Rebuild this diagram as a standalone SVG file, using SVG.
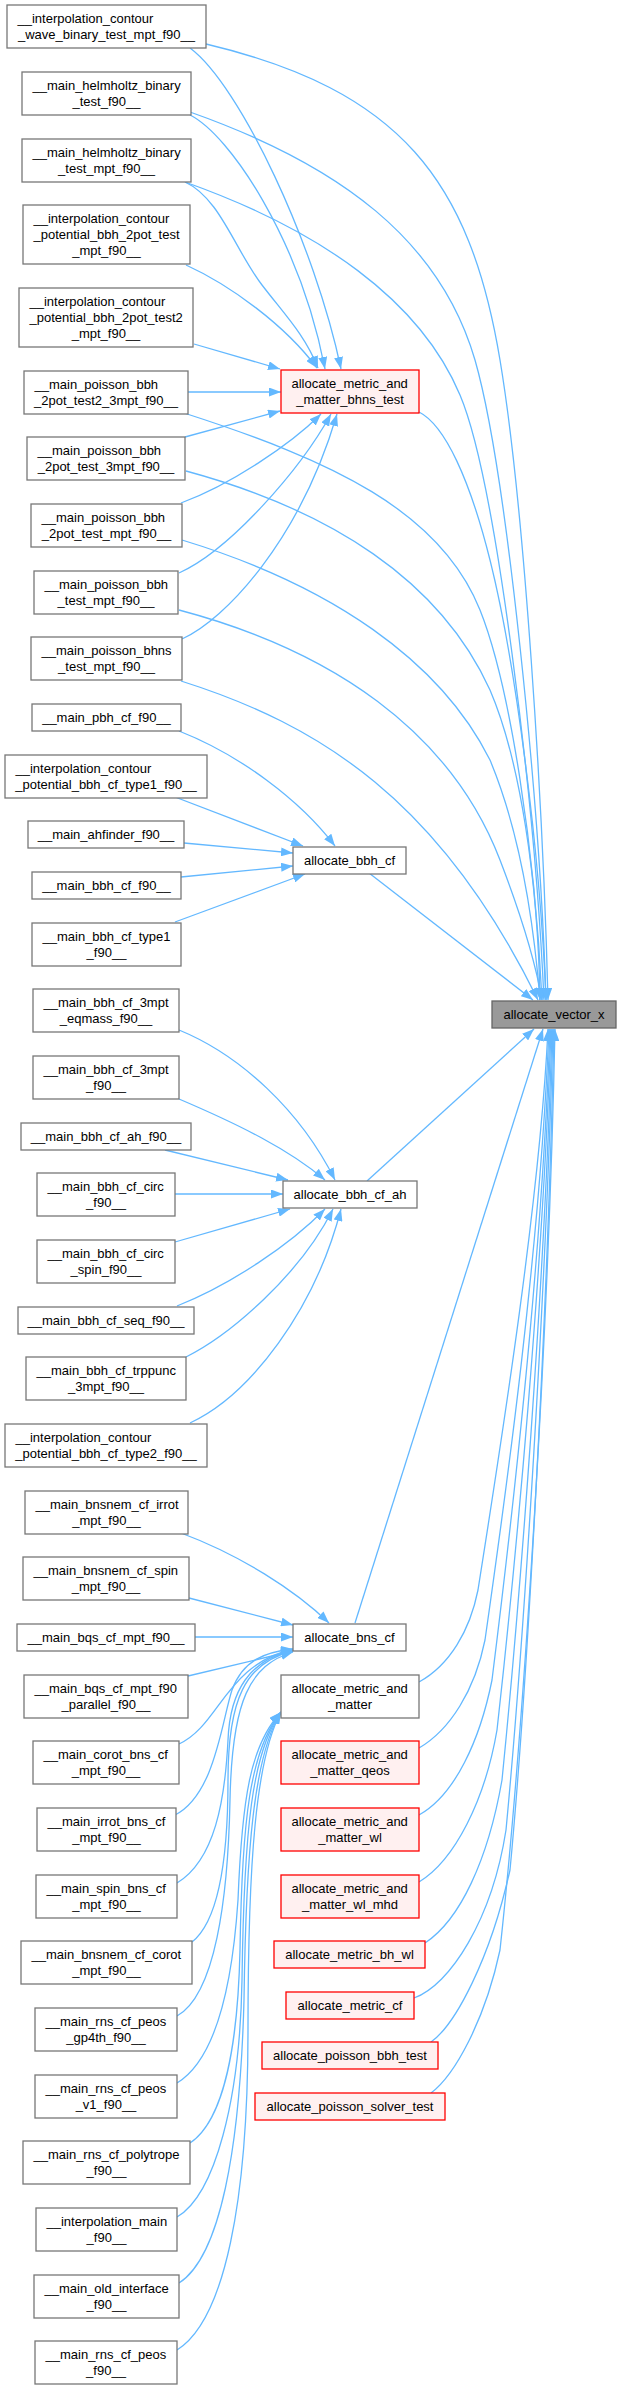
<svg xmlns="http://www.w3.org/2000/svg" width="621" height="2389" viewBox="0 0 621 2389">
<style>
.n rect{fill:#fff;stroke:#777;stroke-width:1.3}
.r rect{fill:#fff0f0;stroke:#f00;stroke-width:1.3}
.v rect{fill:#999;stroke:#666;stroke-width:1.3}
text{font-family:"Liberation Sans",Arial,sans-serif;font-size:13px;fill:#000}
.c{text-anchor:middle}
#edges path{fill:none;stroke:#63b8ff;stroke-width:1.3;marker-end:url(#ah)}
</style>
<defs>
<marker id="ah" viewBox="0 0 12 9" markerWidth="12" markerHeight="9" refX="12" refY="4.5" orient="auto" markerUnits="userSpaceOnUse"><path d="M0,0 L12,4.5 L0,9 z" fill="#63b8ff"/></marker>
</defs>
<rect width="621" height="2389" fill="#fff"/>
<g id="edges">
<path d="M190,48 C240,85 315,245 341,369"/>
<path d="M190,115 C230,135 300,240 325,369"/>
<path d="M185,182 C220,198 235,250 262,285 C285,315 305,335 318,368"/>
<path d="M186,265 C230,285 285,325 317,368"/>
<path d="M194,344 L280,369"/>
<path d="M188,392 L281,392"/>
<path d="M185,437 L280,411"/>
<path d="M181,503 C230,485 290,445 321,414"/>
<path d="M179,573 C230,550 300,470 331,414"/>
<path d="M182,639 C225,620 300,540 337,414"/>
<path d="M206,44 C400,90 470,180 500,360 C524,504 543,800 548,1000"/>
<path d="M190,112 C340,165 440,240 475,360 C506,468 540,800 546,1000"/>
<path d="M185,182 C320,230 420,300 460,395 C496,480 535,800 544,1000"/>
<path d="M184,413 C330,460 440,510 480,610 C510,685 535,850 542,1000"/>
<path d="M186,471 C330,510 440,580 490,690 C520,760 538,880 540,1000"/>
<path d="M182,540 C330,585 440,660 490,760 C515,820 532,900 540,1000"/>
<path d="M179,610 C330,650 450,730 500,860 C520,912 535,960 542,1000"/>
<path d="M181,681 C320,725 440,800 538,1000"/>
<path d="M419,412 C445,425 470,480 490,560 C515,660 540,850 546,1000"/>
<path d="M179,731 C240,755 300,800 335,846"/>
<path d="M175,797 L303,846"/>
<path d="M184,843 L293,853"/>
<path d="M181,877 L293,866"/>
<path d="M175,922 L305,874"/>
<path d="M369,873 L533,1000"/>
<path d="M179,1030 C240,1055 300,1110 335,1180"/>
<path d="M179,1099 C240,1125 290,1150 325,1180"/>
<path d="M165,1150 L288,1180"/>
<path d="M175,1194 L283,1194"/>
<path d="M175,1242 L290,1209"/>
<path d="M177,1306 C230,1285 290,1245 325,1209"/>
<path d="M186,1357 C230,1335 300,1275 333,1209"/>
<path d="M190,1423 C250,1395 315,1310 341,1209"/>
<path d="M367,1181 L534,1029"/>
<path d="M181,1533 C240,1555 295,1590 329,1623"/>
<path d="M189,1598 L293,1625"/>
<path d="M195,1637 L293,1637"/>
<path d="M188,1676 L293,1651"/>
<path d="M179,1744 C220,1725 225,1665 293,1649"/>
<path d="M175,1815 C215,1795 222,1720 232,1690 C243,1660 265,1652 293,1649"/>
<path d="M177,1883 C215,1860 225,1800 228,1740 C230,1690 250,1660 293,1650"/>
<path d="M192,1942 C220,1920 228,1850 228,1780 C228,1700 245,1662 293,1651"/>
<path d="M177,2016 C215,1995 228,1900 230,1800 C232,1700 250,1665 293,1652"/>
<path d="M177,2083 C215,2060 232,1990 238,1900 C242,1800 250,1745 281,1712"/>
<path d="M190,2143 C225,2120 238,2040 240,1950 C242,1820 250,1750 281,1712"/>
<path d="M177,2217 C215,2195 240,2100 242,1980 C244,1830 252,1752 281,1712"/>
<path d="M179,2283 C220,2257 240,2150 244,2000 C246,1850 254,1755 281,1712"/>
<path d="M177,2350 C225,2320 248,2200 248,2030 C248,1860 256,1758 281,1712"/>
<path d="M355,1623 L543,1029"/>
<path d="M419,1682 C450,1665 470,1630 478,1590 C500,1450 540,1200 548,1029"/>
<path d="M419,1748 C450,1730 475,1690 485,1640 C505,1500 540,1250 549,1029"/>
<path d="M419,1815 C455,1795 480,1740 492,1680 C512,1520 542,1260 550,1029"/>
<path d="M419,1882 C455,1860 485,1800 497,1730 C516,1560 543,1270 551,1029"/>
<path d="M425,1943 C460,1920 488,1860 502,1780 C520,1600 545,1280 552,1029"/>
<path d="M414,1998 C450,1985 492,1920 506,1830 C524,1640 546,1290 553,1029"/>
<path d="M431,2042 C455,2025 490,1960 510,1870 C528,1680 548,1300 554,1029"/>
<path d="M431,2093 C455,2075 485,2020 500,1950 C525,1720 549,1320 555,1029"/>
</g>
<g id="n1" class="n"><rect x="7" y="5" width="199" height="43"/><text x="17.5" y="23">__interpolation_contour</text><text class="c" x="106.5" y="39">_wave_binary_test_mpt_f90__</text></g>
<g id="n2" class="n"><rect x="22" y="72" width="169" height="43"/><text x="32.5" y="90">__main_helmholtz_binary</text><text class="c" x="106.5" y="106">_test_f90__</text></g>
<g id="n3" class="n"><rect x="22" y="139" width="169" height="43"/><text x="32.5" y="157">__main_helmholtz_binary</text><text class="c" x="106.5" y="173">_test_mpt_f90__</text></g>
<g id="n4" class="n"><rect x="23" y="205" width="167" height="59"/><text x="33.5" y="223">__interpolation_contour</text><text x="33.5" y="239">_potential_bbh_2pot_test</text><text class="c" x="106.5" y="255">_mpt_f90__</text></g>
<g id="n5" class="n"><rect x="19" y="288" width="174" height="59"/><text x="29.5" y="306">__interpolation_contour</text><text x="29.5" y="322">_potential_bbh_2pot_test2</text><text class="c" x="106" y="338">_mpt_f90__</text></g>
<g id="n6" class="n"><rect x="24" y="371" width="164" height="43"/><text x="34.5" y="389">__main_poisson_bbh</text><text class="c" x="106" y="405">_2pot_test2_3mpt_f90__</text></g>
<g id="n7" class="n"><rect x="27" y="437" width="158" height="43"/><text x="37.5" y="455">__main_poisson_bbh</text><text class="c" x="106" y="471">_2pot_test_3mpt_f90__</text></g>
<g id="n8" class="n"><rect x="31" y="504" width="151" height="43"/><text x="41.5" y="522">__main_poisson_bbh</text><text class="c" x="106.5" y="538">_2pot_test_mpt_f90__</text></g>
<g id="n9" class="n"><rect x="34" y="571" width="144" height="43"/><text x="44.5" y="589">__main_poisson_bbh</text><text class="c" x="106" y="605">_test_mpt_f90__</text></g>
<g id="n10" class="n"><rect x="31" y="637" width="151" height="43"/><text x="41.5" y="655">__main_poisson_bhns</text><text class="c" x="106.5" y="671">_test_mpt_f90__</text></g>
<g id="n11" class="n"><rect x="32" y="704" width="149" height="27"/><text class="c" x="106.5" y="721.5">__main_pbh_cf_f90__</text></g>
<g id="n12" class="n"><rect x="5" y="755" width="202" height="43"/><text x="15.5" y="773">__interpolation_contour</text><text class="c" x="106" y="789">_potential_bbh_cf_type1_f90__</text></g>
<g id="n13" class="n"><rect x="28" y="821" width="156" height="27"/><text class="c" x="106" y="838.5">__main_ahfinder_f90__</text></g>
<g id="n14" class="n"><rect x="32" y="872" width="149" height="27"/><text class="c" x="106.5" y="889.5">__main_bbh_cf_f90__</text></g>
<g id="n15" class="n"><rect x="32" y="923" width="149" height="43"/><text x="42.5" y="941">__main_bbh_cf_type1</text><text class="c" x="106.5" y="957">_f90__</text></g>
<g id="n16" class="n"><rect x="33" y="989" width="146" height="43"/><text x="43.5" y="1007">__main_bbh_cf_3mpt</text><text class="c" x="106" y="1023">_eqmass_f90__</text></g>
<g id="n17" class="n"><rect x="33" y="1056" width="146" height="43"/><text x="43.5" y="1074">__main_bbh_cf_3mpt</text><text class="c" x="106" y="1090">_f90__</text></g>
<g id="n18" class="n"><rect x="21" y="1123" width="170" height="27"/><text class="c" x="106" y="1140.5">__main_bbh_cf_ah_f90__</text></g>
<g id="n19" class="n"><rect x="37" y="1173" width="138" height="43"/><text x="47.5" y="1191">__main_bbh_cf_circ</text><text class="c" x="106" y="1207">_f90__</text></g>
<g id="n20" class="n"><rect x="37" y="1240" width="138" height="43"/><text x="47.5" y="1258">__main_bbh_cf_circ</text><text class="c" x="106" y="1274">_spin_f90__</text></g>
<g id="n21" class="n"><rect x="18" y="1307" width="176" height="27"/><text class="c" x="106" y="1324.5">__main_bbh_cf_seq_f90__</text></g>
<g id="n22" class="n"><rect x="26" y="1357" width="160" height="43"/><text x="36.5" y="1375">__main_bbh_cf_trppunc</text><text class="c" x="106" y="1391">_3mpt_f90__</text></g>
<g id="n23" class="n"><rect x="5" y="1424" width="202" height="43"/><text x="15.5" y="1442">__interpolation_contour</text><text class="c" x="106" y="1458">_potential_bbh_cf_type2_f90__</text></g>
<g id="n24" class="n"><rect x="25" y="1491" width="163" height="43"/><text x="35.5" y="1509">__main_bnsnem_cf_irrot</text><text class="c" x="106.5" y="1525">_mpt_f90__</text></g>
<g id="n25" class="n"><rect x="23" y="1557" width="166" height="43"/><text x="33.5" y="1575">__main_bnsnem_cf_spin</text><text class="c" x="106" y="1591">_mpt_f90__</text></g>
<g id="n26" class="n"><rect x="17" y="1624" width="178" height="27"/><text class="c" x="106" y="1641.5">__main_bqs_cf_mpt_f90__</text></g>
<g id="n27" class="n"><rect x="24" y="1675" width="164" height="43"/><text x="34.5" y="1693">__main_bqs_cf_mpt_f90</text><text class="c" x="106" y="1709">_parallel_f90__</text></g>
<g id="n28" class="n"><rect x="33" y="1741" width="146" height="43"/><text x="43.5" y="1759">__main_corot_bns_cf</text><text class="c" x="106" y="1775">_mpt_f90__</text></g>
<g id="n29" class="n"><rect x="37" y="1808" width="139" height="43"/><text x="47.5" y="1826">__main_irrot_bns_cf</text><text class="c" x="106.5" y="1842">_mpt_f90__</text></g>
<g id="n30" class="n"><rect x="36" y="1875" width="141" height="43"/><text x="46.5" y="1893">__main_spin_bns_cf</text><text class="c" x="106.5" y="1909">_mpt_f90__</text></g>
<g id="n31" class="n"><rect x="21" y="1941" width="171" height="43"/><text x="31.5" y="1959">__main_bnsnem_cf_corot</text><text class="c" x="106.5" y="1975">_mpt_f90__</text></g>
<g id="n32" class="n"><rect x="35" y="2008" width="142" height="43"/><text x="45.5" y="2026">__main_rns_cf_peos</text><text class="c" x="106" y="2042">_gp4th_f90__</text></g>
<g id="n33" class="n"><rect x="35" y="2075" width="142" height="43"/><text x="45.5" y="2093">__main_rns_cf_peos</text><text class="c" x="106" y="2109">_v1_f90__</text></g>
<g id="n34" class="n"><rect x="23" y="2141" width="167" height="43"/><text x="33.5" y="2159">__main_rns_cf_polytrope</text><text class="c" x="106.5" y="2175">_f90__</text></g>
<g id="n35" class="n"><rect x="36" y="2208" width="141" height="43"/><text x="46.5" y="2226">__interpolation_main</text><text class="c" x="106.5" y="2242">_f90__</text></g>
<g id="n36" class="n"><rect x="34" y="2275" width="145" height="43"/><text x="44.5" y="2293">__main_old_interface</text><text class="c" x="106.5" y="2309">_f90__</text></g>
<g id="n37" class="n"><rect x="35" y="2341" width="142" height="43"/><text x="45.5" y="2359">__main_rns_cf_peos</text><text class="c" x="106" y="2375">_f90__</text></g>
<g id="bhns" class="r"><rect x="281" y="370" width="138" height="43"/><text x="291.5" y="388">allocate_metric_and</text><text class="c" x="350" y="404">_matter_bhns_test</text></g>
<g id="bbhcf" class="n"><rect x="293" y="847" width="113" height="27"/><text class="c" x="349.5" y="864.5">allocate_bbh_cf</text></g>
<g id="bbhcfah" class="n"><rect x="283" y="1181" width="134" height="27"/><text class="c" x="350" y="1198.5">allocate_bbh_cf_ah</text></g>
<g id="bnscf" class="n"><rect x="293" y="1624" width="113" height="27"/><text class="c" x="349.5" y="1641.5">allocate_bns_cf</text></g>
<g id="mam" class="n"><rect x="281" y="1675" width="138" height="43"/><text x="291.5" y="1693">allocate_metric_and</text><text class="c" x="350" y="1709">_matter</text></g>
<g id="qeos" class="r"><rect x="281" y="1741" width="138" height="43"/><text x="291.5" y="1759">allocate_metric_and</text><text class="c" x="350" y="1775">_matter_qeos</text></g>
<g id="wl" class="r"><rect x="281" y="1808" width="138" height="43"/><text x="291.5" y="1826">allocate_metric_and</text><text class="c" x="350" y="1842">_matter_wl</text></g>
<g id="wlmhd" class="r"><rect x="281" y="1875" width="138" height="43"/><text x="291.5" y="1893">allocate_metric_and</text><text class="c" x="350" y="1909">_matter_wl_mhd</text></g>
<g id="bhwl" class="r"><rect x="274" y="1941" width="151" height="27"/><text class="c" x="349.5" y="1958.5">allocate_metric_bh_wl</text></g>
<g id="mcf" class="r"><rect x="286" y="1992" width="128" height="27"/><text class="c" x="350" y="2009.5">allocate_metric_cf</text></g>
<g id="pbbh" class="r"><rect x="262" y="2042" width="176" height="27"/><text class="c" x="350" y="2059.5">allocate_poisson_bbh_test</text></g>
<g id="psolver" class="r"><rect x="255" y="2093" width="190" height="27"/><text class="c" x="350" y="2110.5">allocate_poisson_solver_test</text></g>
<g id="vecx" class="v"><rect x="492" y="1001" width="124" height="27"/><text class="c" x="554" y="1018.5">allocate_vector_x</text></g>
</svg>
